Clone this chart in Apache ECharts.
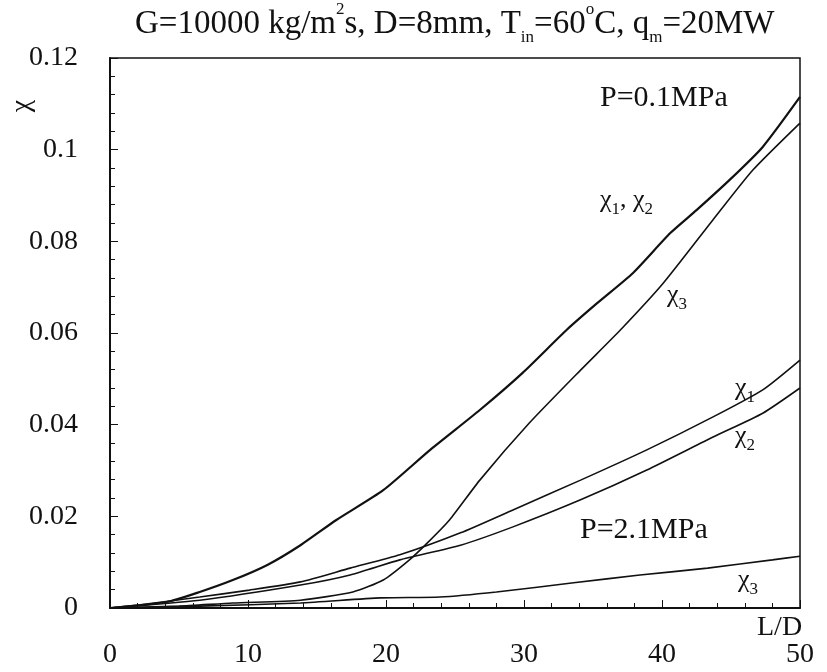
<!DOCTYPE html>
<html>
<head>
<meta charset="utf-8">
<style>
    html, body { margin: 0; padding: 0; background: #fff; }
    #chart { width: 827px; height: 672px; }
</style>
<script src="https://cdn.jsdelivr.net/npm/echarts@6/dist/echarts.min.js"></script>
</head>
<body>
<div id="chart"></div>
<script>
    // 坐标轴刻度
    var xTicks = [0, 10, 20, 30, 40, 50];
    var yTicks = [0, 0.02, 0.04, 0.06, 0.08, 0.1, 0.12];

    // P=0.1MPa: χ1, χ2 (重合)
    var p01_x12 = [[0, 0], [4.1, 0.0013], [6.5, 0.0035], [8.9, 0.0061], [11.4, 0.0094], [13.8, 0.0137],
        [16.4, 0.0192], [19.8, 0.0257], [23.2, 0.0345], [26.8, 0.0432], [29.9, 0.0513], [33.1, 0.0607],
        [35.3, 0.0665], [37.9, 0.0731], [40.6, 0.0818], [42.5, 0.0868], [44.9, 0.0934], [47.3, 0.1006], [50, 0.1115]];
    // P=0.1MPa: χ3
    var p01_x3 = [[0, 0], [5, 0.0004], [8.9, 0.0011], [13.8, 0.0017], [17.6, 0.0035], [19.8, 0.0061],
        [21.7, 0.0105], [23.0, 0.0142], [24.6, 0.0192], [26.8, 0.0279], [30.4, 0.0404], [34.1, 0.0519],
        [37.0, 0.0607], [40.1, 0.0709], [43.7, 0.0847], [46.6, 0.0956], [50, 0.1058]];
    // P=2.1MPa: χ1
    var p21_x1 = [[0, 0], [2.2, 0.0007], [6.5, 0.0024], [10.1, 0.0039], [13.8, 0.0057], [17.4, 0.0087],
        [21.0, 0.0116], [25.4, 0.0164], [29.2, 0.0214], [34.1, 0.0279], [38.9, 0.0345], [43.7, 0.0417],
        [47.3, 0.0476], [50, 0.0541]];
    // P=2.1MPa: χ2
    var p21_x2 = [[0, 0], [6.5, 0.0017], [13.8, 0.0050], [17.4, 0.0072], [21.0, 0.0105], [25.4, 0.0137],
        [29.2, 0.0177], [34.1, 0.0236], [38.9, 0.0301], [43.7, 0.0373], [47.3, 0.0425], [50, 0.0480]];
    // P=2.1MPa: χ3
    var p21_x3 = [[0, 0], [6.5, 0.0004], [13.8, 0.0011], [19.6, 0.0022], [23.9, 0.0024], [28.0, 0.0035],
        [33.6, 0.0055], [38.4, 0.0072], [43.3, 0.0087], [48.0, 0.0105], [50, 0.0113]];

    var serif = '"Liberation Serif", "DejaVu Serif", serif';
    var sub = { fontSize: 17, fontFamily: serif, verticalAlign: 'bottom', padding: [0, 0, -5, 0] };
    var sup = { fontSize: 17, fontFamily: serif, verticalAlign: 'top', padding: [-7, 0, 0, 0] };

    function lineSeries(name, data, width) {
        return {
            name: name,
            type: 'line',
            data: data,
            showSymbol: false,
            smooth: 0.2,
            silent: true,
            lineStyle: { color: '#111', width: width }
        };
    }

    function note(text, x, y, size) {
        return {
            type: 'text',
            x: x,
            y: y,
            style: {
                text: text,
                font: size + 'px ' + serif,
                fill: '#111',
                textVerticalAlign: 'middle',
                rich: { sub: sub, sup: sup }
            }
        };
    }

    var myChart = echarts.init(document.getElementById('chart'));
    myChart.setOption({
        animation: false,
        backgroundColor: '#fff',
        title: {
            text: 'G=10000 kg/m{sup|2}s, D=8mm, T{sub|in}=60{sup|o}C, q{sub|m}=20MW',
            left: 130,
            top: 3,
            textStyle: {
                fontFamily: serif,
                fontSize: 33,
                fontWeight: 'normal',
                color: '#111',
                rich: { sub: sub, sup: sup }
            }
        },
        grid: {
            left: 110,
            right: 27,
            top: 58,
            bottom: 64,
            show: true,
            borderColor: '#111',
            borderWidth: 1.5,
            outerBoundsMode: 'none'
        },
        xAxis: {
            type: 'value',
            min: xTicks[0],
            max: xTicks[xTicks.length - 1],
            interval: 10,
            axisLine: { onZero: false, lineStyle: { color: '#111', width: 2 } },
            axisTick: { inside: true, length: 8, lineStyle: { color: '#111' } },
            minorTick: { show: true, splitNumber: 5, length: 5, lineStyle: { color: '#111' } },
            splitLine: { show: false },
            axisLabel: { margin: 33, fontFamily: serif, fontSize: 28, color: '#111' }
        },
        yAxis: {
            type: 'value',
            min: yTicks[0],
            max: yTicks[yTicks.length - 1],
            interval: 0.02,
            axisLine: { show: true, lineStyle: { color: '#111', width: 2 } },
            axisTick: { inside: true, length: 8, lineStyle: { color: '#111' } },
            minorTick: { show: true, splitNumber: 5, length: 5, lineStyle: { color: '#111' } },
            splitLine: { show: false },
            axisLabel: { margin: 32, fontFamily: serif, fontSize: 28, color: '#111' }
        },
        graphic: [
            {
                type: 'text',
                x: 22,
                y: 106,
                rotation: Math.PI / 2,
                style: { text: 'χ', font: '28px ' + serif, fill: '#111', textAlign: 'center', textVerticalAlign: 'middle' }
            },
            note('P=0.1MPa', 600, 98, 30),
            note('χ{sub|1}, χ{sub|2}', 600, 200, 26),
            note('χ{sub|3}', 667, 295, 26),
            note('χ{sub|1}', 735, 388, 26),
            note('χ{sub|2}', 735, 436, 26),
            note('P=2.1MPa', 580, 530, 30),
            note('χ{sub|3}', 738, 580, 26),
            note('L/D', 757, 628, 28)
        ],
        series: [
            lineSeries('P=0.1MPa χ1, χ2', p01_x12, 2.2),
            lineSeries('P=0.1MPa χ3', p01_x3, 1.6),
            lineSeries('P=2.1MPa χ1', p21_x1, 1.6),
            lineSeries('P=2.1MPa χ2', p21_x2, 1.6),
            lineSeries('P=2.1MPa χ3', p21_x3, 1.6)
        ]
    });
</script>
</body>
</html>
